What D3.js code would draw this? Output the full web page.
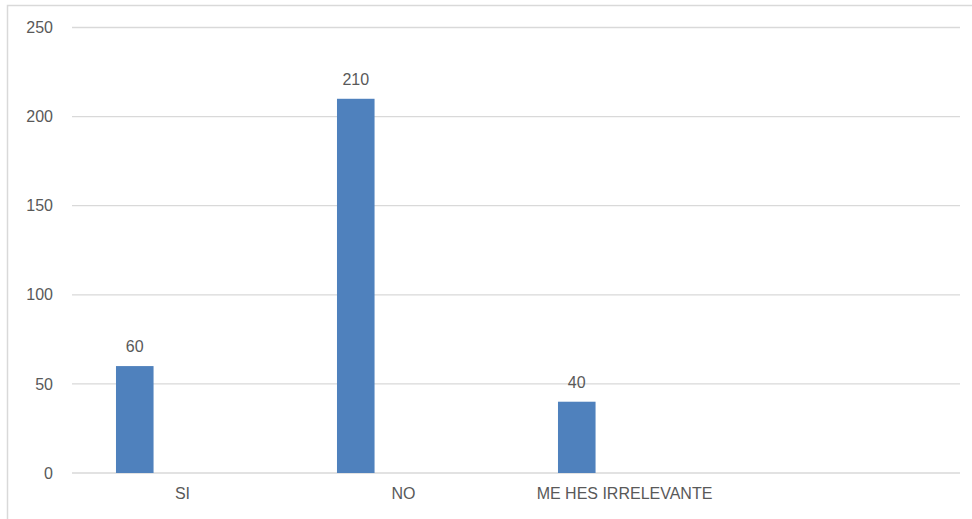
<!DOCTYPE html>
<html>
<head>
<meta charset="utf-8">
<script src="https://cdn.jsdelivr.net/npm/d3@7"></script>
<style>
  html, body { margin: 0; padding: 0; background: #fff; }
  svg { display: block; }
  text { font-family: "Liberation Sans", Arial, sans-serif; fill: #595959; }
</style>
</head>
<body>
<svg id="chart" width="972" height="519"></svg>
<script>
const categories = ["SI", "NO", "ME HES IRRELEVANTE", ""];
const values = [60, 210, 40, null];
const yTicks = [0, 50, 100, 150, 200, 250];

const W = 972, H = 519;
const svg = d3.select("#chart");
const FS = 16;

// outer chart border
svg.append("path")
  .attr("d", `M7.5,${H} V5.5 H${W}`)
  .attr("fill", "none")
  .attr("stroke", "#d9d9d9")
  .attr("stroke-width", 1.5);

const plot = { left: 72, right: 956, gridRight: 960, top: 27.5, bottom: 473 };

const x = d3.scaleBand().domain(categories.map((c, i) => i)).range([plot.left, plot.right]).padding(0);
const y = d3.scaleLinear().domain([0, 250]).range([plot.bottom, plot.top]);

// gridlines
svg.append("g").selectAll("line").data(yTicks).join("line")
  .attr("x1", plot.left).attr("x2", plot.gridRight)
  .attr("y1", d => y(d)).attr("y2", d => y(d))
  .attr("stroke", "#d9d9d9").attr("stroke-width", 1.3);

// y axis labels
const yAxis = d3.axisLeft(y).tickValues(yTicks).tickSize(0).tickPadding(0);
const ya = svg.append("g").attr("transform", `translate(${53},0)`).call(yAxis);
ya.select(".domain").remove();
ya.selectAll("text").attr("font-size", FS).attr("fill", "#595959")
  .style("font-family", '"Liberation Sans", Arial, sans-serif');

// x axis labels
const xAxis = d3.axisBottom(x).tickFormat(i => categories[i]).tickSize(0).tickPadding(0);
const xa = svg.append("g").attr("transform", `translate(0,${plot.bottom + 15})`).call(xAxis);
xa.select(".domain").remove();
xa.selectAll("text").attr("font-size", FS).attr("fill", "#595959")
  .style("font-family", '"Liberation Sans", Arial, sans-serif');

// bars (first series within each cluster)
const bw = x.bandwidth();
const barOff = bw * 0.199, barW = bw * 0.17;
const data = values.map((v, i) => ({ i, v })).filter(d => d.v != null);

svg.append("g").selectAll("rect").data(data).join("rect")
  .attr("x", d => x(d.i) + barOff)
  .attr("width", barW)
  .attr("y", d => y(d.v))
  .attr("height", d => y(0) - y(d.v))
  .attr("fill", "#4f81bd");

// value labels
svg.append("g").selectAll("text").data(data).join("text")
  .attr("x", d => x(d.i) + barOff + barW / 2)
  .attr("y", d => y(d.v) - 14)
  .attr("text-anchor", "middle")
  .attr("font-size", FS)
  .text(d => d.v);
</script>
</body>
</html>
